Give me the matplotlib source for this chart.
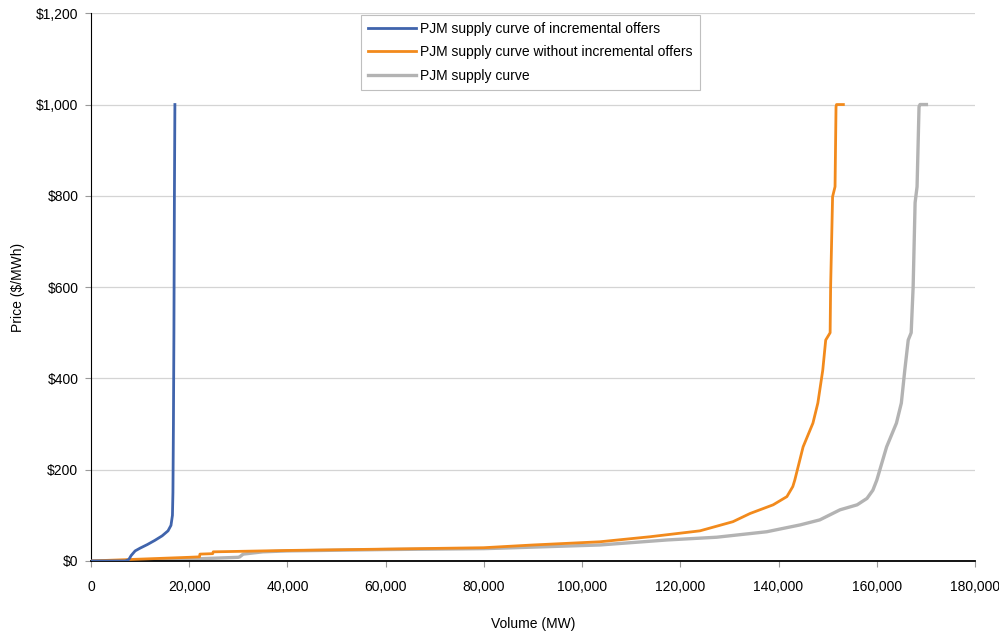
import matplotlib
matplotlib.use("Agg")
import matplotlib.pyplot as plt
from matplotlib.ticker import FuncFormatter
from matplotlib import font_manager

# pick a narrow sans if present
names = {f.name for f in font_manager.fontManager.ttflist}
fam = "Liberation Sans Narrow" if "Liberation Sans Narrow" in names else "Liberation Sans"
plt.rcParams['font.family'] = [fam, 'DejaVu Sans']

# Supply curve data (MW, $/MWh)
inc_mw = [0, 7000, 7700, 8200, 9000, 10000, 11500, 13000, 14500, 15700, 16300,
          16600, 16700, 16800, 16900, 17000, 17100]
inc_price = [0, 0, 3, 12, 22, 28, 36, 45, 55, 66, 78, 100, 150, 300, 500, 800, 1000]

noinc_mw = [0, 10000, 20000, 22100, 22200, 24800, 24900, 30000, 40000, 60000, 80000,
            83300, 90000, 103600, 113800, 124000, 130700, 134200, 138900, 141700,
            142900, 143300, 145000, 147000, 148000, 149000, 149600, 150500, 150600,
            151000, 151500, 151700, 151800, 153200]
noinc_price = [0, 4, 8, 9, 15, 16, 20, 21, 23, 26, 29, 31, 35, 42, 53, 66, 86, 104,
               123, 141, 163, 177, 250, 302, 346, 418, 484, 500, 600, 798, 820, 995,
               1000, 1000]

all_mw = [0, 14000, 20000, 30000, 30300, 31000, 35000, 40000, 60000, 80000, 83300,
          103600, 117300, 127400, 137600, 144400, 148400, 152500, 156000, 158000,
          159200, 160000, 162000, 164000, 165000, 165700, 166400, 167000, 167400,
          167800, 168200, 168400, 168600, 168800, 170100]
all_price = [0, 1, 4, 8, 9, 15, 20, 22, 25, 27, 28, 35, 46, 52, 64, 79, 90, 112, 123,
             137, 155, 177, 250, 302, 346, 418, 484, 500, 600, 785, 820, 907, 995,
             1000, 1000]

fig = plt.figure(figsize=(9.99, 6.31), dpi=100)
ax = fig.add_axes([0.091, 0.111, 0.885, 0.868])

ax.plot(inc_mw, inc_price, color="#4064AC", lw=2.0,
        label="PJM supply curve of incremental offers", zorder=4)
ax.plot(noinc_mw, noinc_price, color="#F28A1C", lw=2.0,
        label="PJM supply curve without incremental offers", zorder=3)
ax.plot(all_mw, all_price, color="#B3B3B3", lw=2.4,
        label="PJM supply curve", zorder=2)

ax.set_xlim(0, 180000)
ax.set_ylim(0, 1200)
ax.set_xticks(range(0, 180001, 20000))
ax.set_yticks(range(0, 1201, 200))
ax.xaxis.set_major_formatter(FuncFormatter(lambda v, p: f"{int(v):,}"))
ax.yaxis.set_major_formatter(FuncFormatter(lambda v, p: f"${int(v):,}"))
ax.tick_params(labelsize=10, length=4, color="#999999")
ax.tick_params(axis='x', pad=10)
ax.tick_params(axis='y', pad=5)

ax.grid(axis='y', color="#D4D4D4", lw=0.9)
ax.set_axisbelow(True)
for s in ["top", "right"]:
    ax.spines[s].set_visible(False)
ax.spines["left"].set_color("black")
ax.spines["bottom"].set_color("black")
ax.spines["bottom"].set_linewidth(1.3)

ax.set_xlabel("Volume (MW)", fontsize=10, labelpad=16)
ax.set_ylabel("Price ($/MWh)", fontsize=10, labelpad=8)

leg = ax.legend(loc="upper center", bbox_to_anchor=(0.497, 1.0), fontsize=10,
                fancybox=False, edgecolor="#BFBFBF", framealpha=1,
                handlelength=3.5, borderpad=0.5, labelspacing=0.7,
                borderaxespad=0.1, handletextpad=0.3)
leg.get_frame().set_linewidth(0.8)

fig.savefig("out.png", dpi=100)
